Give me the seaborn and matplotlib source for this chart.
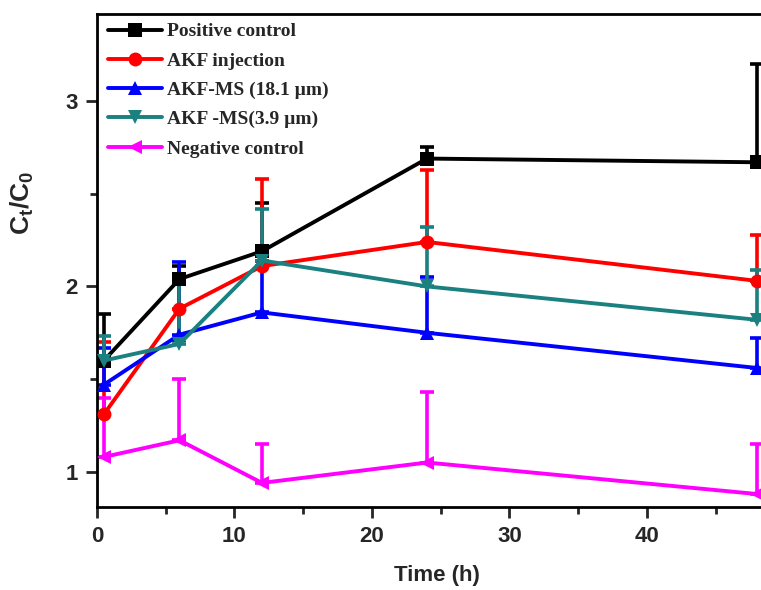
import numpy as np
import pandas as pd
import matplotlib
matplotlib.use('Agg')
import matplotlib.pyplot as plt
import seaborn as sns
from matplotlib.ticker import MultipleLocator
from matplotlib.font_manager import FontProperties

# Release profile data
time_h = [0.5, 6, 12, 24, 48]
groups = ['Positive control', 'AKF injection', 'AKF-MS (18.1 µm)',
          'AKF -MS(3.9 µm)', 'Negative control']

positive = [1.60, 2.04, 2.19, 2.69, 2.67]
positive_err = [0.25, 0.07, 0.26, 0.06, 0.53]
injection = [1.31, 1.88, 2.11, 2.24, 2.03]
injection_err = [0.39, 0.15, 0.47, 0.39, 0.25]
ms_18 = [1.47, 1.74, 1.86, 1.75, 1.56]
ms_18_err = [0.20, 0.39, 0.28, 0.30, 0.16]
ms_39 = [1.60, 1.69, 2.14, 2.00, 1.82]
ms_39_err = [0.13, 0.37, 0.28, 0.32, 0.27]
negative = [1.08, 1.17, 0.94, 1.05, 0.88]
negative_err = [0.32, 0.33, 0.21, 0.38, 0.27]

colors = ['#000000', '#FF0000', '#0000FF', '#1A8080', '#FF00FF']
marker_list = ['s', 'o', '^', 'v', '<']

sns.set_theme(style='ticks')
plt.rcParams['font.family'] = ['Liberation Sans', 'DejaVu Sans']
plt.rcParams['font.weight'] = 'bold'
plt.rcParams['mathtext.fontset'] = 'custom'
plt.rcParams['mathtext.rm'] = 'Liberation Sans:bold'
plt.rcParams['mathtext.it'] = 'Liberation Sans:bold'
plt.rcParams['mathtext.bf'] = 'Liberation Sans:bold'

series = [positive, injection, ms_18, ms_39, negative]
errors = [positive_err, injection_err, ms_18_err, ms_39_err, negative_err]

rows = []
for g, vals in zip(groups, series):
    for t, v in zip(time_h, vals):
        rows.append({'Time': t, 'Ratio': v, 'Group': g})
df = pd.DataFrame(rows)

fig = plt.figure(figsize=(7.61, 5.90), dpi=100)
ax = fig.add_axes([97 / 761, 83 / 590, 1 - 97 / 761 + 0.02, 493 / 590])

# one-sided error bars
for g, vals, err, c in zip(groups, series, errors, colors):
    ax.errorbar(time_h, vals, yerr=[np.zeros(len(err)), err], fmt='none',
                ecolor=c, elinewidth=2.6, capsize=5, capthick=2.6, zorder=2)

sns.lineplot(data=df, x='Time', y='Ratio', hue='Group', style='Group',
             hue_order=groups, style_order=groups,
             palette=dict(zip(groups, colors)),
             markers=dict(zip(groups, marker_list)), dashes=False,
             linewidth=2.8, markersize=10, markeredgewidth=0, ax=ax, zorder=3)

ax.set_xlim(0, 49.4)
ax.set_ylim(0.81, 3.47)
ax.xaxis.set_major_locator(MultipleLocator(10))
ax.xaxis.set_minor_locator(MultipleLocator(5))
ax.yaxis.set_major_locator(MultipleLocator(1))
ax.yaxis.set_minor_locator(MultipleLocator(0.5))
ax.tick_params(which='major', direction='out', length=8, width=2,
               labelsize=16, top=False, right=False, pad=6)
ax.tick_params(which='minor', direction='out', length=5, width=2,
               top=False, right=False)
for lab in ax.get_xticklabels() + ax.get_yticklabels():
    lab.set_fontweight('bold')

for side in ['left', 'bottom', 'top']:
    ax.spines[side].set_linewidth(2)
    ax.spines[side].set_color('black')
ax.spines['right'].set_visible(False)

ax.set_xlabel('Time (h)', fontsize=16, fontweight='bold', labelpad=13)
ax.set_ylabel(r'$\mathrm{C_t/C_0}$', fontsize=19)
ax.yaxis.set_label_coords(-0.09, 0.617)

handles, labels = ax.get_legend_handles_labels()
ax.legend(handles, labels, loc='upper left', frameon=False,
          prop=FontProperties(family='Liberation Serif', weight='bold', size=14),
          handlelength=2.8, handletextpad=0.25, labelspacing=0.6,
          borderaxespad=0.05, bbox_to_anchor=(0.003, 1.0))

fig.savefig('out.png', dpi=100)
